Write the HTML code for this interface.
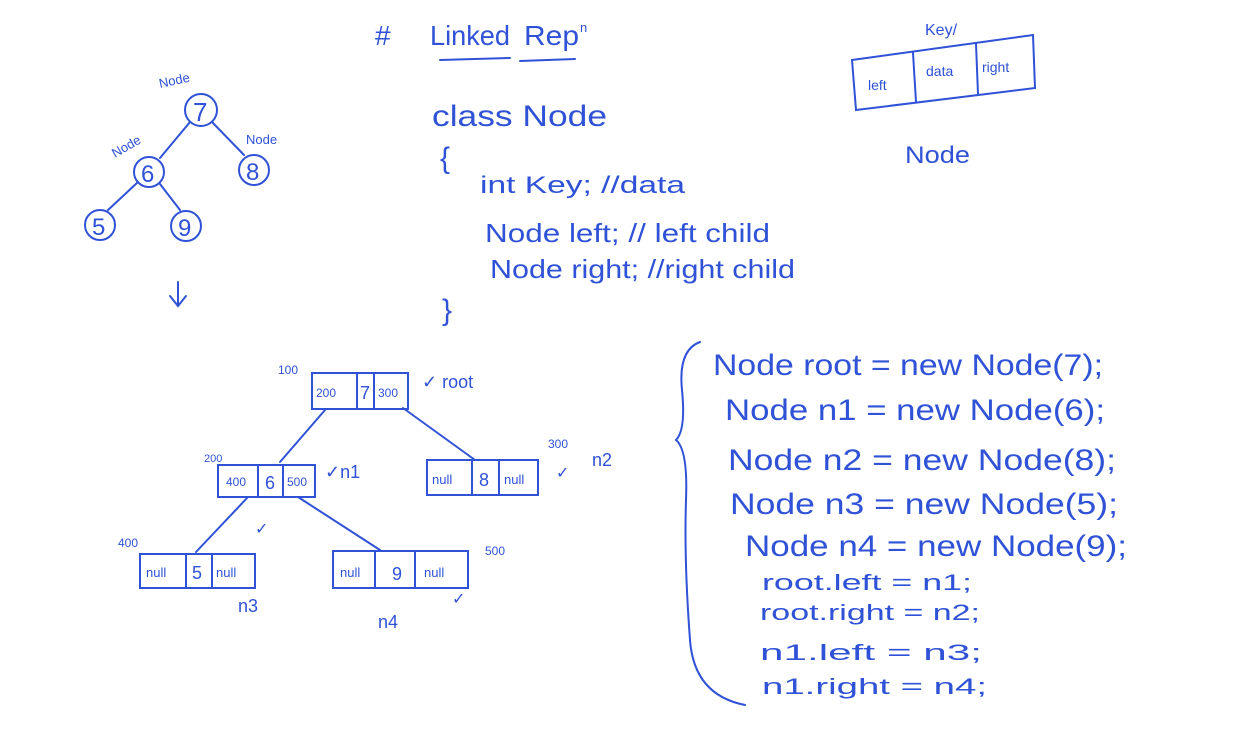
<!DOCTYPE html>
<html><head><meta charset="utf-8"><style>
html,body{margin:0;padding:0;background:#fff;}
svg{display:block;}
text{font-family:"Liberation Sans",sans-serif;fill:#2f52d6;}
.s{stroke:#2f52d6;stroke-width:2;fill:none;stroke-linecap:round;}
</style></head><body>
<svg width="1236" height="755" viewBox="0 0 1236 755">
<g>
  <line class="s" x1="190" y1="122" x2="160" y2="158"/>
  <line class="s" x1="212" y1="122" x2="244" y2="155"/>
  <line class="s" x1="138" y1="182" x2="108" y2="210"/>
  <line class="s" x1="160" y1="184" x2="180" y2="210"/>
  <circle class="s" cx="201" cy="110" r="16"/><text x="193" y="121" font-size="26">7</text>
  <circle class="s" cx="149" cy="172" r="15"/><text x="141" y="182" font-size="24">6</text>
  <circle class="s" cx="254" cy="170" r="15"/><text x="246" y="180" font-size="24">8</text>
  <circle class="s" cx="100" cy="225" r="15"/><text x="92" y="235" font-size="24">5</text>
  <circle class="s" cx="186" cy="226" r="15"/><text x="178" y="236" font-size="24">9</text>
  <text x="160" y="88" font-size="13" transform="rotate(-12 160 88)">Node</text>
  <text x="115" y="158" font-size="13" transform="rotate(-30 115 158)">Node</text>
  <text x="246" y="144" font-size="13">Node</text>
  <line class="s" x1="178" y1="282" x2="178" y2="306"/>
  <polyline class="s" points="170,296 178,306 186,296"/>
</g>
<g>
  <text x="375" y="45" font-size="28">#</text>
  <text x="430" y="45" font-size="28" textLength="80" lengthAdjust="spacingAndGlyphs">Linked</text>
  <text x="524" y="45" font-size="28" textLength="55" lengthAdjust="spacingAndGlyphs">Rep</text>
  <text x="580" y="32" font-size="13">n</text>
  <line class="s" x1="440" y1="60" x2="510" y2="58"/>
  <line class="s" x1="520" y1="61" x2="575" y2="59"/>
</g>
<g>
  <text x="432" y="126" font-size="30" textLength="175" lengthAdjust="spacingAndGlyphs">class Node</text>
  <text x="440" y="168" font-size="30">{</text>
  <text x="480" y="193" font-size="24" textLength="205" lengthAdjust="spacingAndGlyphs">int Key; //data</text>
  <text x="485" y="242" font-size="26" textLength="285" lengthAdjust="spacingAndGlyphs">Node left; // left child</text>
  <text x="490" y="278" font-size="26" textLength="305" lengthAdjust="spacingAndGlyphs">Node right; //right child</text>
  <text x="442" y="320" font-size="30">}</text>
</g>
<g>
  <text x="925" y="35" font-size="16">Key/</text>
  <polygon class="s" points="852,60 1033,35 1035,88 856,110"/>
  <line class="s" x1="913" y1="53" x2="916" y2="102"/>
  <line class="s" x1="976" y1="44" x2="978" y2="94"/>
  <text x="868" y="90" font-size="14">left</text>
  <text x="926" y="76" font-size="14">data</text>
  <text x="982" y="72" font-size="14">right</text>
  <text x="905" y="163" font-size="24" textLength="65" lengthAdjust="spacingAndGlyphs">Node</text>
</g>
<g>
  <line class="s" x1="325" y1="410" x2="280" y2="462"/>
  <line class="s" x1="403" y1="408" x2="475" y2="460"/>
  <line class="s" x1="248" y1="497" x2="196" y2="552"/>
  <line class="s" x1="298" y1="497" x2="380" y2="550"/>
  <g>
    <rect class="s" x="312" y="373" width="96" height="36"/>
    <line class="s" x1="357" y1="373" x2="357" y2="409"/><line class="s" x1="374" y1="373" x2="374" y2="409"/>
    <text x="316" y="397" font-size="12">200</text><text x="360" y="399" font-size="18">7</text><text x="378" y="397" font-size="12">300</text>
    <text x="278" y="374" font-size="12">100</text>
    <text x="422" y="388" font-size="18">✓ root</text>
  </g>
  <g>
    <rect class="s" x="218" y="465" width="97" height="32"/>
    <line class="s" x1="258" y1="465" x2="258" y2="497"/><line class="s" x1="283" y1="465" x2="283" y2="497"/>
    <text x="226" y="486" font-size="12">400</text><text x="265" y="489" font-size="18">6</text><text x="287" y="486" font-size="12">500</text>
    <text x="204" y="462" font-size="11">200</text>
    <text x="325" y="478" font-size="18">✓n1</text>
  </g>
  <g>
    <rect class="s" x="427" y="460" width="111" height="35"/>
    <line class="s" x1="472" y1="460" x2="472" y2="495"/><line class="s" x1="499" y1="460" x2="499" y2="495"/>
    <text x="432" y="484" font-size="13">null</text><text x="479" y="486" font-size="18">8</text><text x="504" y="484" font-size="13">null</text>
    <text x="548" y="448" font-size="12">300</text>
    <text x="556" y="478" font-size="16">✓</text><text x="592" y="466" font-size="18">n2</text>
  </g>
  <g>
    <rect class="s" x="140" y="554" width="115" height="34"/>
    <line class="s" x1="186" y1="554" x2="186" y2="588"/><line class="s" x1="212" y1="554" x2="212" y2="588"/>
    <text x="146" y="577" font-size="13">null</text><text x="192" y="579" font-size="18">5</text><text x="216" y="577" font-size="13">null</text>
    <text x="118" y="547" font-size="12">400</text>
    <text x="255" y="534" font-size="16">✓</text>
    <text x="238" y="612" font-size="18">n3</text>
  </g>
  <g>
    <rect class="s" x="333" y="551" width="135" height="37"/>
    <line class="s" x1="375" y1="551" x2="375" y2="588"/><line class="s" x1="415" y1="551" x2="415" y2="588"/>
    <text x="340" y="577" font-size="13">null</text><text x="392" y="580" font-size="18">9</text><text x="424" y="577" font-size="13">null</text>
    <text x="485" y="555" font-size="12">500</text>
    <text x="452" y="604" font-size="16">✓</text>
    <text x="378" y="628" font-size="18">n4</text>
  </g>
</g>
<g>
  <path class="s" d="M700,342 Q678,350 682,390 Q686,430 676,440 Q688,450 686,500 Q684,560 690,640 Q694,695 745,705"/>
  <text x="713" y="375" font-size="30" textLength="390" lengthAdjust="spacingAndGlyphs">Node root = new Node(7);</text>
  <text x="725" y="420" font-size="30" textLength="380" lengthAdjust="spacingAndGlyphs">Node n1 = new Node(6);</text>
  <text x="728" y="470" font-size="30" textLength="388" lengthAdjust="spacingAndGlyphs">Node n2 = new Node(8);</text>
  <text x="730" y="514" font-size="30" textLength="388" lengthAdjust="spacingAndGlyphs">Node n3 = new Node(5);</text>
  <text x="745" y="556" font-size="30" textLength="382" lengthAdjust="spacingAndGlyphs">Node n4 = new Node(9);</text>
  <text x="762" y="590" font-size="22" textLength="210" lengthAdjust="spacingAndGlyphs">root.left = n1;</text>
  <text x="760" y="620" font-size="22" textLength="220" lengthAdjust="spacingAndGlyphs">root.right = n2;</text>
  <text x="760" y="660" font-size="22" textLength="222" lengthAdjust="spacingAndGlyphs">n1.left = n3;</text>
  <text x="762" y="694" font-size="22" textLength="225" lengthAdjust="spacingAndGlyphs">n1.right = n4;</text>
</g>
</svg>
</body></html>
